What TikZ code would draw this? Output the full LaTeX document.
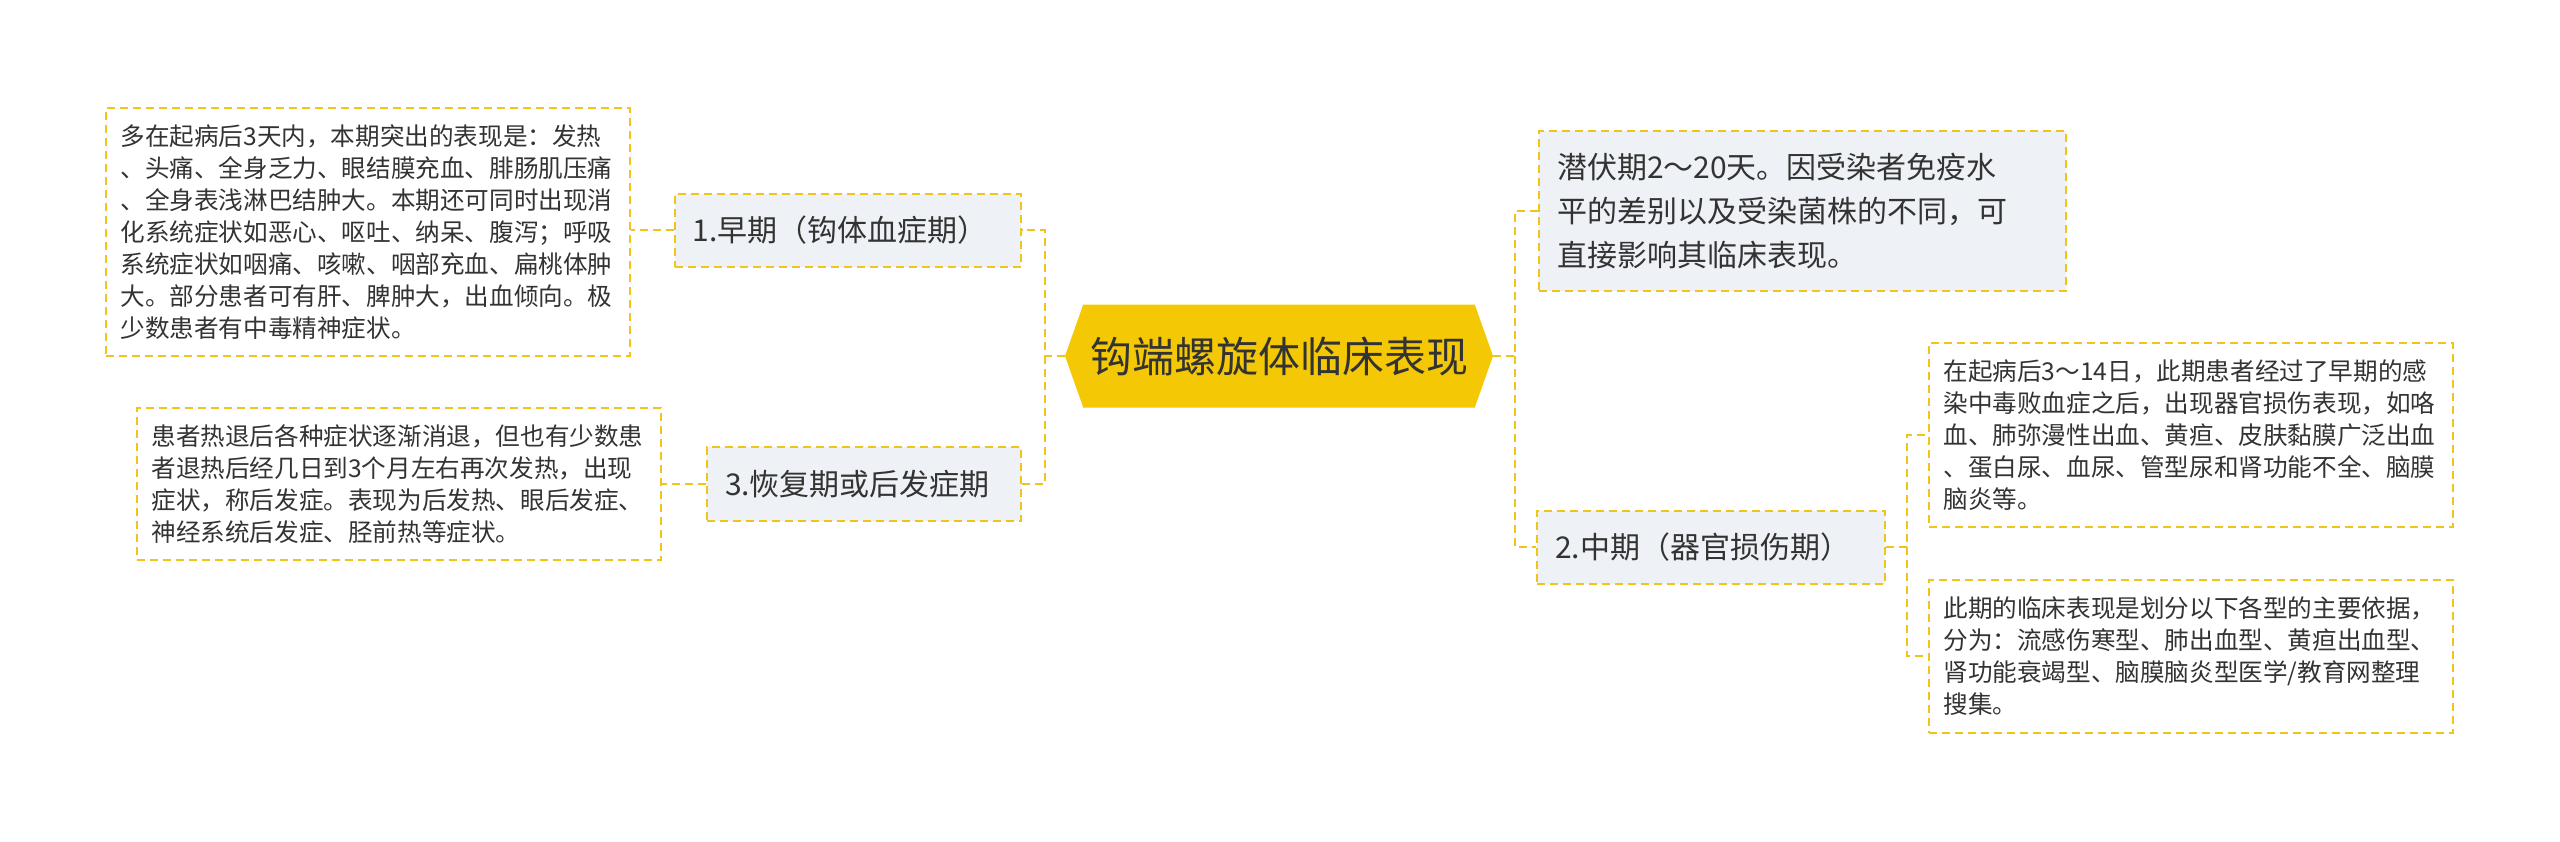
\documentclass[tikz,border=0pt]{standalone}
\usepackage{fontspec}
\setmainfont{Noto Sans CJK SC}
\usepackage{tikz}
\usetikzlibrary{shapes.symbols}
\definecolor{dashyellow}{RGB}{240,196,25}
\definecolor{hubyellow}{RGB}{245,200,5}
\definecolor{boxgray}{RGB}{238,241,245}
\definecolor{inkgray}{RGB}{51,51,51}

\begin{document}
\begin{tikzpicture}[x=0.5pt, y=-0.5pt,
    link/.style={draw=dashyellow, line width=1.2pt, dash pattern=on 4pt off 2.5pt},
    frame/.style={draw=dashyellow, line width=1pt, dash pattern=on 4pt off 2.5pt, text=inkgray, align=left},
    leaf/.style={frame, inner xsep=7.5pt, text width=247pt, font=\fontsize{12.3}{16}\selectfont},
    branch/.style={frame, fill=boxgray, inner xsep=9pt, font=\fontsize{15}{22}\selectfont},
    hub/.style={signal, signal to=west and east, signal pointer angle=141, fill=hubyellow,
      text=inkgray, font=\fontsize{21}{25}\selectfont, minimum width=214pt, minimum height=51.5pt, inner sep=0pt}]
    \useasboundingbox (0,0) rectangle (2560,841);
    % centre
    \node [hub] (hub) at (1279,356) {钩端螺旋体临床表现};
    % left
    \node [branch, text width=155pt, minimum height=36.5pt] (early) at (847.5,230) {1.早期（钩体血症期）};
    \node [branch, text width=139pt, minimum height=37pt] (recov) at (864,484) {3.恢复期或后发症期};
    \node [leaf, minimum height=124pt] (earlyleaf) at (367.5,232) {多在起病后3天内，本期突出的表现是：发热\\
      、头痛、全身乏力、眼结膜充血、腓肠肌压痛\\
      、全身表浅淋巴结肿大。本期还可同时出现消\\
      化系统症状如恶心、呕吐、纳呆、腹泻；呼吸\\
      系统症状如咽痛、咳嗽、咽部充血、扁桃体肿\\
      大。部分患者可有肝、脾肿大，出血倾向。极\\
      少数患者有中毒精神症状。};
    \node [leaf, minimum height=76pt] (recovleaf) at (398.5,484) {患者热退后各种症状逐渐消退，但也有少数患\\
      者退热后经几日到3个月左右再次发热，出现\\
      症状，称后发症。表现为后发热、眼后发症、\\
      神经系统后发症、胫前热等症状。};
    % right
    \node [branch, text width=245.5pt, minimum height=80pt] (latent) at (1802.5,211) {潜伏期2～20天。因受染者免疫水\\
      平的差别以及受染菌株的不同，可\\
      直接影响其临床表现。};
    \node [branch, text width=156pt, minimum height=36.5pt] (mid) at (1711,547) {2.中期（器官损伤期）};
    \node [leaf, minimum height=92pt] (midleaf1) at (2190.5,435) {在起病后3～14日，此期患者经过了早期的感\\
      染中毒败血症之后，出现器官损伤表现，如咯\\
      血、肺弥漫性出血、黄疸、皮肤黏膜广泛出血\\
      、蛋白尿、血尿、管型尿和肾功能不全、脑膜\\
      脑炎等。};
    \node [leaf, minimum height=76.5pt] (midleaf2) at (2190.5,656) {此期的临床表现是划分以下各型的主要依据，\\
      分为：流感伤寒型、肺出血型、黄疸出血型、\\
      肾功能衰竭型、脑膜脑炎型医学/教育网整理\\
      搜集。};
    % connectors
    \coordinate (lj) at (1045,356);
    \coordinate (rj) at (1515,356);
    \coordinate (mj) at (1907,547);
    \draw [link] (hub.west) -- (lj) |- (early.east);
    \draw [link] (lj) |- (recov.east);
    \draw [link] (early.west) -- (earlyleaf.east |- early.west);
    \draw [link] (recov.west) -- (recovleaf.east |- recov.west);
    \draw [link] (hub.east) -- (rj) |- (latent.west);
    \draw [link] (rj) |- (mid.west);
    \draw [link] (mid.east) -- (mj) |- (midleaf1.west);
    \draw [link] (mj) |- (midleaf2.west);
  \end{tikzpicture}
\end{document}
